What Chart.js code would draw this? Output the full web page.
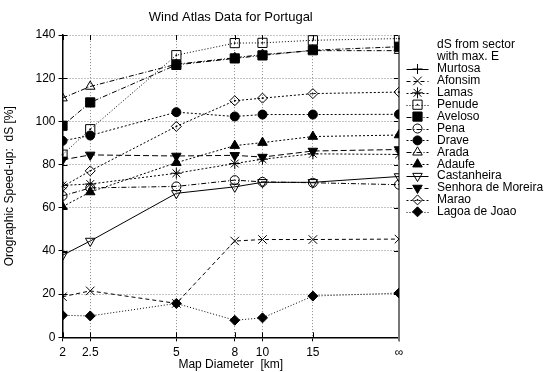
<!DOCTYPE html>
<html><head><meta charset="utf-8">
<script src="https://cdn.jsdelivr.net/npm/chart.js@4/dist/chart.umd.min.js"></script>
<style>html,body{margin:0;padding:0;background:#fff}canvas{display:block}</style>
</head><body>
<canvas id="c" width="549" height="372"></canvas>
<script>
// ---- data ----
const mapDiameters = [2, 2.5, 5, 8, 10, 15, 30];          // 30 = where "∞" sits on the log axis
const xTickLabels  = ['2', '2.5', '5', '8', '10', '15', '∞'];
const yTickValues  = [0, 20, 40, 60, 80, 100, 120, 140];
const seriesNames  = ['Murtosa','Afonsim','Lamas','Penude','Aveloso','Pena','Drave','Arada','Adaufe','Castanheira','Senhora de Moreira','Marao','Lagoa de Joao'];

const murtosa     = [];
const afonsim     = [18.8, 21.5, 15.7, 44.6, 45.3, 45.3, 45.5];
const lamas       = [70.4, 71.0, 76.0, 80.5, 82.5, 85.0, 84.7];
const penude      = [84.6, 96.4, 130.7, 136.3, 136.4, 137.6, 138.4];
const aveloso     = [98.0, 108.8, 126.2, 129.2, 130.6, 133.0, 134.6];
const pena        = [65.5, 69.2, 69.9, 72.8, 72.0, 71.6, 70.7];
const drave       = [91.0, 93.5, 104.3, 102.3, 103.2, 103.2, 103.3];
const arada       = [110.8, 116.2, 126.5, 129.5, 131.0, 132.8, 132.8];
const adaufe      = [60.5, 67.3, 80.9, 88.8, 90.2, 93.0, 93.7];
const castanheira = [38.0, 44.6, 66.7, 69.7, 71.8, 71.8, 74.5];
const senhora     = [82.2, 84.5, 84.0, 84.3, 83.5, 86.3, 87.0];
const marao       = [69.8, 77.1, 97.7, 109.6, 110.8, 112.9, 113.6];
const lagoa       = [10.2, 9.9, 15.7, 7.9, 9.0, 19.1, 20.5];

const seriesValues = [murtosa, afonsim, lamas, penude, aveloso, pena, drave, arada, adaufe, castanheira, senhora, marao, lagoa];

// ---- styles ----
const FONT = '"Liberation Sans", Arial, Helvetica, sans-serif';
const styles = [
  {dash: [],          ps: 'cross',    r: 5,   fill: false},
  {dash: [4, 3],      ps: 'crossRot', r: 6,   fill: false},
  {dash: [2, 2],      ps: 'star',     r: 5.5, fill: false},
  {dash: [1, 2],      ps: 'rect',     r: 6.5, fill: false, dot: true},
  {dash: [5, 2, 1, 2],ps: 'rect',     r: 6.5, fill: true},
  {dash: [5, 2, 1, 2],ps: 'circle',   r: 4.5, fill: false},
  {dash: [2, 2],      ps: 'circle',   r: 4.5, fill: true},
  {dash: [5, 2, 1, 2],ps: 'triangle', r: 5.5, fill: false},
  {dash: [2, 2],      ps: 'triangle', r: 5.5, fill: true},
  {dash: [],          ps: 'triangle', r: 5.5, fill: false, rot: 180},
  {dash: [6, 3],      ps: 'triangle', r: 5.5, fill: true,  rot: 180},
  {dash: [2, 2],      ps: 'rectRot',  r: 5,   fill: false, dot: true},
  {dash: [1, 2],      ps: 'rectRot',  r: 5,   fill: true}
];

const datasets = seriesNames.map((name, k) => {
  const s = styles[k];
  return {
    label: name,
    data: seriesValues[k].map((v, i) => ({x: mapDiameters[i], y: v})),
    borderColor: '#000',
    borderWidth: 1,
    borderDash: s.dash,
    backgroundColor: 'rgba(0,0,0,0)',
    pointStyle: s.ps,
    pointRadius: s.r,
    pointRotation: s.rot || 0,
    pointBorderColor: '#000',
    pointBorderWidth: 1,
    pointBackgroundColor: s.fill ? '#000' : 'rgba(0,0,0,0)',
    centerDot: !!s.dot,
    tension: 0,
    fill: false
  };
});

// right border, mirrored inward ticks, centre dots, legend
const extras = {
  id: 'extras',
  beforeDatasetsDraw(chart) {
    const {ctx, chartArea: a, scales} = chart;
    ctx.save();
    ctx.setLineDash([]);
    ctx.strokeStyle = '#000';
    ctx.lineWidth = 1;
    ctx.beginPath();
    mapDiameters.forEach(v => {
      const x = Math.round(scales.x.getPixelForValue(v)) + 0.5;
      ctx.moveTo(x, a.bottom); ctx.lineTo(x, a.bottom - 5);
      ctx.moveTo(x, a.top); ctx.lineTo(x, a.top + 5);
    });
    yTickValues.forEach(v => {
      const y = Math.round(scales.y.getPixelForValue(v)) + 0.5;
      ctx.moveTo(a.left, y); ctx.lineTo(a.left + 5, y);
      ctx.moveTo(a.right, y); ctx.lineTo(a.right - 5, y);
    });
    ctx.stroke();
    ctx.strokeStyle = '#777';
    ctx.lineWidth = 2;
    ctx.beginPath();
    ctx.moveTo(a.right, a.top); ctx.lineTo(a.right, a.bottom + 4);
    ctx.stroke();
    ctx.restore();
  },
  afterDatasetsDraw(chart) {
    const {ctx} = chart;
    ctx.save();
    ctx.fillStyle = '#000';
    chart.data.datasets.forEach((ds, k) => {
      if (!ds.centerDot) return;
      chart.getDatasetMeta(k).data.forEach(el => {
        ctx.beginPath(); ctx.arc(el.x, el.y, 0.9, 0, Math.PI * 2); ctx.fill();
      });
    });
    // legend
    const x0 = 406.5, x1 = 428.5, xs = 417.5, xt = 437;
    ctx.font = '12px ' + FONT;
    ctx.textBaseline = 'middle';
    ctx.textAlign = 'left';
    ctx.fillText('dS from sector', xt, 45);
    ctx.fillText('with max. E', xt, 57);
    chart.data.datasets.forEach((ds, k) => {
      const y = 69 + k * 11.9;
      ctx.strokeStyle = '#000';
      ctx.lineWidth = 1;
      ctx.setLineDash(ds.borderDash);
      ctx.beginPath(); ctx.moveTo(x0, Math.round(y) + 0.5); ctx.lineTo(x1, Math.round(y) + 0.5); ctx.stroke();
      ctx.setLineDash([]);
      ctx.fillStyle = ds.pointBackgroundColor;
      if (Chart.helpers && Chart.helpers.drawPoint) {
        Chart.helpers.drawPoint(ctx, {pointStyle: ds.pointStyle, rotation: ds.pointRotation, radius: ds.pointRadius, borderWidth: 1}, xs, y);
      }
      if (ds.centerDot) { ctx.fillStyle = '#000'; ctx.beginPath(); ctx.arc(xs, y, 0.9, 0, Math.PI * 2); ctx.fill(); }
      ctx.fillStyle = '#000';
      ctx.fillText(ds.label, xt, y);
    });
    ctx.restore();
  }
};

new Chart(document.getElementById('c'), {
  type: 'line',
  data: {datasets},
  plugins: [extras],
  options: {
    responsive: false,
    animation: false,
    events: [],
    layout: {padding: {left: 0, right: 150, top: 0, bottom: 0}},
    plugins: {
      legend: {display: false},
      tooltip: {enabled: false},
      title: {display: true, fullSize: false, text: 'Wind Atlas Data for Portugal', color: '#000',
              font: {family: FONT, size: 13, weight: 'normal'}, padding: {top: 9.5, bottom: 10}}
    },
    scales: {
      x: {
        type: 'logarithmic', min: 2, max: 30,
        afterBuildTicks: s => { s.ticks = mapDiameters.map(v => ({value: v})); },
        afterFit: s => { s.height = 34.7; },
        ticks: {autoSkip: false, maxRotation: 0, minRotation: 0, color: '#000', padding: 4,
                font: {family: FONT, size: 12}, callback: (v, i) => xTickLabels[i]},
        grid: {color: '#8a8a8a', lineWidth: 1, tickColor: '#000', tickLength: 4, borderDash: [1, 2]},
        border: {display: true, color: '#000', width: 1.5, dash: [1, 2]},
        title: {display: true, text: 'Map Diameter  [km]', color: '#000',
                font: {family: FONT, size: 12}, padding: {top: 0, bottom: 0}}
      },
      y: {
        min: 0, max: 140,
        afterBuildTicks: s => { s.ticks = yTickValues.map(v => ({value: v})); },
        afterFit: s => { s.width = 62.5; },
        ticks: {color: '#000', padding: 3, font: {family: FONT, size: 12}},
        grid: {color: '#8a8a8a', lineWidth: 1, tickColor: '#000', tickLength: 4, borderDash: [1, 2]},
        border: {display: true, color: '#000', width: 1.5, dash: [1, 2]},
        title: {display: true, text: 'Orographic Speed-up:  dS [%]', color: '#000',
                font: {family: FONT, size: 12}, padding: {top: 2, bottom: 0}}
      }
    }
  }
});
</script>
</body></html>
